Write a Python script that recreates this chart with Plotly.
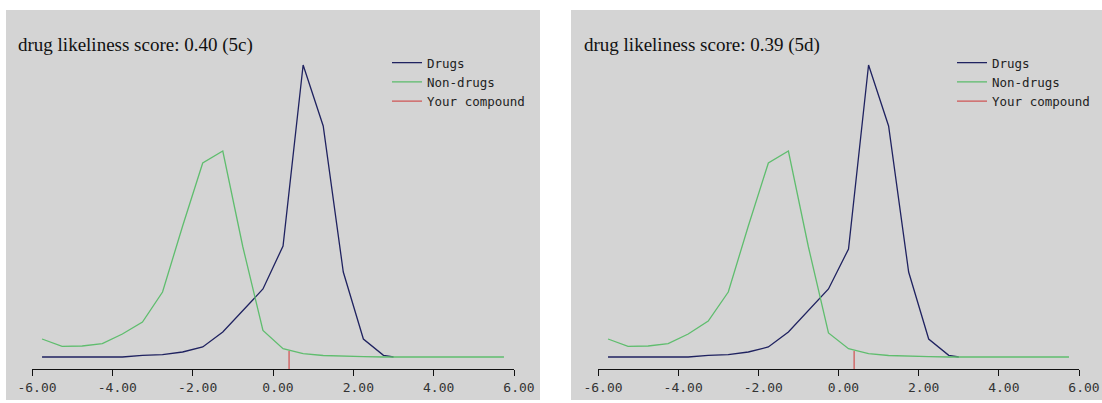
import plotly.graph_objects as go

# ---------------- data ----------------
score_x = [-5.75, -5.25, -4.75, -4.25, -3.75, -3.25, -2.75, -2.25, -1.75, -1.25,
           -0.75, -0.25, 0.25, 0.75, 1.25, 1.75, 2.25, 2.75, 3.25, 3.75,
           4.25, 4.75, 5.25, 5.75]
drugs_x = [-5.75, -5.25, -4.75, -4.25, -3.75, -3.25, -2.75, -2.25, -1.75, -1.25,
           -0.75, -0.25, 0.25, 0.75, 1.25, 1.75, 2.25, 2.75, 3.0]

drugs_5c = [0, 0, 0, 0, 0, 0.17, 0.23, 0.5, 1.0, 2.5,
            4.6, 6.8, 11.1, 29.2, 23.1, 8.5, 1.8, 0.17, 0.0]
nondrugs_5c = [1.8, 1.06, 1.1, 1.33, 2.3, 3.5, 6.5, 13.1, 19.4, 20.6,
               11.0, 2.65, 0.83, 0.33, 0.15, 0.07, 0.03, 0, 0, 0,
               0, 0, 0, 0]
drugs_5d = [0, 0, 0, 0, 0, 0.17, 0.23, 0.5, 1.0, 2.5,
            4.6, 6.8, 10.8, 29.2, 23.1, 8.5, 1.8, 0.17, 0.0]
nondrugs_5d = [1.8, 1.06, 1.1, 1.33, 2.3, 3.6, 6.5, 13.1, 19.4, 20.6,
               11.0, 2.4, 0.83, 0.33, 0.15, 0.07, 0.03, 0, 0, 0,
               0, 0, 0, 0]

score_5c = 0.40
score_5d = 0.39
titles = ["drug likeliness score: 0.40 (5c)", "drug likeliness score: 0.39 (5d)"]

tick_vals = [-6, -4, -2, 0, 2, 4, 6]
tick_text = ["-6.00", "-4.00", "-2.00", "0.00", "2.00", "4.00", "6.00"]

# ---------------- style / layout ----------------
W, H = 1102, 403
Y_LO, Y_HI = -1.2, 34.7
MARK_TOP = 0.6

C_DRUG = "#1f2260"
C_NON = "#5fbd6e"
C_RED = "#d05a5a"
GRAY = "#d4d4d4"
MONO = "DejaVu Sans Mono"

def px(x):
    return x / W

def py(y):
    return 1 - y / H

fig = go.Figure()

panels = [
    dict(xa="x", ya="y", leg="legend", d=drugs_5c, n=nondrugs_5c, s=score_5c),
    dict(xa="x2", ya="y2", leg="legend2", d=drugs_5d, n=nondrugs_5d, s=score_5d),
]

for p in panels:
    fig.add_trace(go.Scatter(x=drugs_x, y=p["d"], mode="lines", name="Drugs",
                             line=dict(color=C_DRUG, width=1.3),
                             xaxis=p["xa"], yaxis=p["ya"], legend=p["leg"]))
    fig.add_trace(go.Scatter(x=score_x, y=p["n"], mode="lines", name="Non-drugs",
                             line=dict(color=C_NON, width=1.3),
                             xaxis=p["xa"], yaxis=p["ya"], legend=p["leg"]))
    fig.add_trace(go.Scatter(x=[p["s"], p["s"]], y=[Y_LO, MARK_TOP], mode="lines",
                             name="Your compound",
                             line=dict(color=C_RED, width=1.3),
                             xaxis=p["xa"], yaxis=p["ya"], legend=p["leg"]))

xaxis_common = dict(range=[-6, 6], tickmode="array", tickvals=tick_vals, ticktext=tick_text,
                    showline=True, linecolor="#111", linewidth=1, ticks="outside",
                    ticklen=6, tickcolor="#111", tickwidth=1, showgrid=False, zeroline=False,
                    tickfont=dict(family=MONO, size=13, color="#333"),
                    ticklabelshift=5, fixedrange=True, automargin=False)
yaxis_common = dict(range=[Y_LO, Y_HI], visible=False, fixedrange=True, automargin=False)

legend_common = dict(xanchor="left", yanchor="top", bgcolor="rgba(0,0,0,0)",
                     font=dict(family=MONO, size=12.5, color="#222"),
                     itemwidth=30, tracegroupgap=0, borderwidth=0)

fig.update_layout(
    width=W, height=H,
    margin=dict(l=0, r=0, t=0, b=0, pad=0, autoexpand=False),
    paper_bgcolor="white", plot_bgcolor="rgba(0,0,0,0)",
    xaxis=dict(domain=[px(32), px(514)], anchor="y", **xaxis_common),
    yaxis=dict(domain=[py(369), py(10)], anchor="x", **yaxis_common),
    xaxis2=dict(domain=[px(598), px(1079)], anchor="y2", **xaxis_common),
    yaxis2=dict(domain=[py(369), py(10)], anchor="x2", **yaxis_common),
    legend=dict(x=px(387), y=py(48), **legend_common),
    legend2=dict(x=px(952), y=py(48), **legend_common),
    showlegend=True,
    shapes=[
        dict(type="rect", xref="paper", yref="paper", x0=px(6), x1=px(540),
             y0=py(400), y1=py(10), fillcolor=GRAY, line=dict(width=0), layer="below"),
        dict(type="rect", xref="paper", yref="paper", x0=px(571), x1=1,
             y0=py(400), y1=py(10), fillcolor=GRAY, line=dict(width=0), layer="below"),
    ],
    annotations=[
        dict(text=titles[0], xref="paper", yref="paper", x=px(16), y=py(45),
             xanchor="left", yanchor="middle", showarrow=False,
             font=dict(family="Liberation Serif", size=19, color="#111")),
        dict(text=titles[1], xref="paper", yref="paper", x=px(582), y=py(45),
             xanchor="left", yanchor="middle", showarrow=False,
             font=dict(family="Liberation Serif", size=19, color="#111")),
    ],
)

fig.write_html("out.html", config=dict(displayModeBar=False),
               post_script="document.body.style.margin='0';")
